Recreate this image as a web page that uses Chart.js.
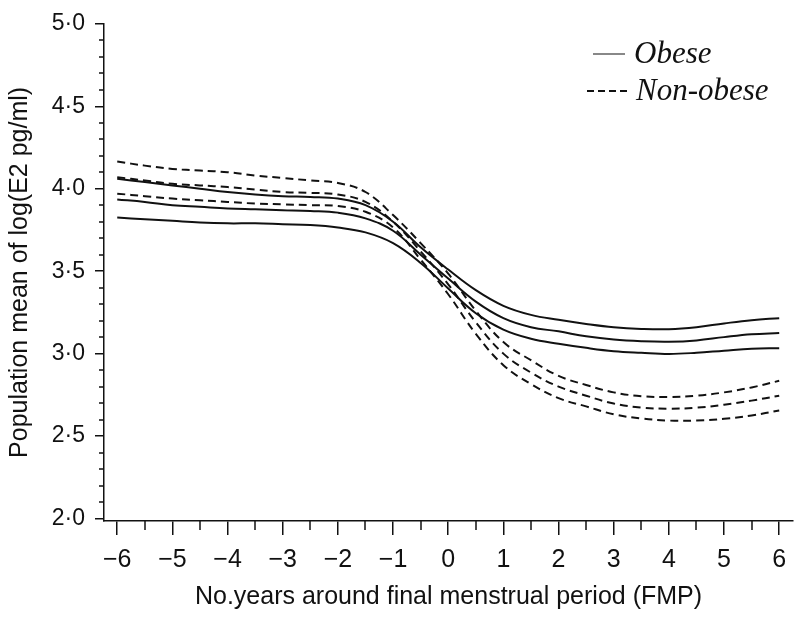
<!DOCTYPE html>
<html>
<head>
<meta charset="utf-8">
<script src="https://cdn.jsdelivr.net/npm/chart.js@4"></script>
<style>
  html, body { margin: 0; padding: 0; background: #fff; }
  #wrap { width: 800px; height: 617px; }
</style>
</head>
<body>
<div id="wrap"><canvas id="e2Chart" width="800" height="617"></canvas></div>
<script>
// years around FMP
const years = [-6, -5.5, -5, -4.5, -4, -3.5, -3, -2.5, -2, -1.5, -1, -0.5, 0,
               0.5, 1, 1.5, 2, 2.5, 3, 3.5, 4, 4.5, 5, 5.5, 6];

// Obese: upper CI, mean, lower CI
const obeseUpper = [4.06, 4.04, 4.02, 4.00, 3.98, 3.965, 3.955, 3.95, 3.94, 3.90, 3.80, 3.645, 3.51,
                    3.385, 3.29, 3.235, 3.205, 3.18, 3.16, 3.15, 3.148, 3.16, 3.183, 3.203, 3.215];
const obeseMean  = [3.935, 3.92, 3.90, 3.89, 3.88, 3.875, 3.87, 3.865, 3.855, 3.82, 3.745, 3.60, 3.455,
                    3.315, 3.215, 3.16, 3.135, 3.105, 3.085, 3.075, 3.072, 3.08, 3.10, 3.117, 3.125];
const obeseLower = [3.825, 3.815, 3.805, 3.795, 3.79, 3.79, 3.785, 3.78, 3.765, 3.735, 3.67, 3.55, 3.395,
                    3.245, 3.145, 3.09, 3.06, 3.035, 3.015, 3.005, 2.998, 3.005, 3.018, 3.03, 3.033];

// Non-obese: upper CI, mean, lower CI
const nonObeseUpper = [4.165, 4.14, 4.12, 4.11, 4.10, 4.08, 4.065, 4.05, 4.035, 3.98, 3.84, 3.67, 3.485,
                       3.26, 3.07, 2.96, 2.865, 2.81, 2.765, 2.742, 2.737, 2.745, 2.765, 2.795, 2.835];
const nonObeseMean  = [4.07, 4.05, 4.03, 4.02, 4.01, 3.995, 3.98, 3.975, 3.965, 3.92, 3.80, 3.62, 3.42,
                       3.19, 3.00, 2.885, 2.80, 2.745, 2.697, 2.673, 2.666, 2.672, 2.69, 2.715, 2.745];
const nonObeseLower = [3.97, 3.955, 3.94, 3.93, 3.92, 3.91, 3.905, 3.90, 3.895, 3.86, 3.765, 3.57, 3.36,
                       3.12, 2.93, 2.815, 2.73, 2.68, 2.632, 2.607, 2.594, 2.594, 2.605, 2.625, 2.655];

// tick positions
const xMajorTicks = [-6, -5, -4, -3, -2, -1, 0, 1, 2, 3, 4, 5, 6];
const xMinorTicks = [-5.5, -4.5, -3.5, -2.5, -1.5, -0.5, 0.5, 1.5, 2.5, 3.5, 4.5, 5.5];
const yMajorTicks = [2.0, 2.5, 3.0, 3.5, 4.0, 4.5, 5.0];
const yMinorTicks = [2.1, 2.2, 2.3, 2.4, 2.6, 2.7, 2.8, 2.9, 3.1, 3.2, 3.3, 3.4,
                     3.6, 3.7, 3.8, 3.9, 4.1, 4.2, 4.3, 4.4, 4.6, 4.7, 4.8, 4.9];

const legendLabels = ['Obese', 'Non-obese'];

function pts(arr) {
    return years.map((x, i) => ({ x: x, y: arr[i] }));
}

function curve(arr, dashed) {
    return {
        data: pts(arr),
        borderColor: '#111',
        borderWidth: 2,
        borderDash: dashed ? [8, 5] : [],
        pointRadius: 0,
        fill: false,
        tension: 0.4
    };
}

// small minor tick marks + the text legend in the top right
const extrasPlugin = {
    id: 'extras',
    afterDraw(chart) {
        const c = chart.ctx;
        const xs = chart.scales.x;
        const ys = chart.scales.y;
        c.save();
        c.strokeStyle = '#111';
        c.lineWidth = 1.5;
        xMinorTicks.forEach(v => {
            const px = Math.round(xs.getPixelForValue(v));
            c.beginPath();
            c.moveTo(px, xs.top);
            c.lineTo(px, xs.top + 9);
            c.stroke();
        });
        yMinorTicks.forEach(v => {
            const py = Math.round(ys.getPixelForValue(v));
            c.beginPath();
            c.moveTo(ys.right - 5, py);
            c.lineTo(ys.right, py);
            c.stroke();
        });

        // legend
        c.font = 'italic 31px "Liberation Serif"';
        c.textBaseline = 'middle';
        c.fillStyle = '#111';
        c.strokeStyle = '#888';
        c.lineWidth = 2;
        c.beginPath();
        c.moveTo(593, 54);
        c.lineTo(625, 54);
        c.stroke();
        c.fillText(legendLabels[0], 634, 55);

        c.strokeStyle = '#111';
        c.setLineDash([7, 4]);
        c.beginPath();
        c.moveTo(587, 91);
        c.lineTo(628, 91);
        c.stroke();
        c.setLineDash([]);
        c.fillText(legendLabels[1], 636, 92);
        c.restore();
    }
};

const ctx = document.getElementById('e2Chart').getContext('2d');

const e2Chart = new Chart(ctx, {
    type: 'line',
    data: {
        datasets: [
            curve(obeseUpper, false),
            curve(obeseMean, false),
            curve(obeseLower, false),
            curve(nonObeseUpper, true),
            curve(nonObeseMean, true),
            curve(nonObeseLower, true)
        ]
    },
    options: {
        responsive: false,
        animation: false,
        layout: { padding: { left: 0, right: 7, top: 18, bottom: 0 } },
        plugins: {
            legend: { display: false },
            tooltip: { enabled: false }
        },
        scales: {
            x: {
                type: 'linear',
                min: -6.24,
                max: 6.25,
                afterFit: s => { s.height = 96; },
                afterBuildTicks: s => { s.ticks = xMajorTicks.map(v => ({ value: v })); },
                border: { display: true, color: '#111', width: 1.5 },
                grid: { display: true, drawOnChartArea: false, drawTicks: true, tickLength: 14, color: '#111', lineWidth: 1.5 },
                ticks: {
                    padding: 10,
                    color: '#111',
                    font: { family: '"Liberation Sans", Arial', size: 25 },
                    callback: v => v < 0 ? '\u2212' + Math.abs(v) : String(v),
                    maxRotation: 0
                },
                title: {
                    display: true,
                    text: 'No.years around final menstrual period (FMP)',
                    color: '#111',
                    font: { family: '"Liberation Sans", Arial', size: 25 },
                    padding: { top: 0, bottom: 5 }
                }
            },
            y: {
                min: 1.985,
                max: 5.0,
                afterFit: s => { s.width = 104; },
                afterBuildTicks: s => { s.ticks = yMajorTicks.map(v => ({ value: v })); },
                border: { display: true, color: '#111', width: 1.5 },
                grid: { display: true, drawOnChartArea: false, drawTicks: true, tickLength: 9, color: '#111', lineWidth: 1.5 },
                ticks: {
                    padding: 10,
                    color: '#111',
                    font: { family: '"Liberation Sans", Arial', size: 23 },
                    callback: v => v.toFixed(1).replace('.', '\u00b7')
                },
                title: {
                    display: true,
                    text: 'Population mean of log(E2 pg/ml)',
                    color: '#111',
                    font: { family: '"Liberation Sans", Arial', size: 25 },
                    padding: { top: 5, bottom: 0 }
                }
            }
        }
    },
    plugins: [extrasPlugin]
});
</script>
</body>
</html>
